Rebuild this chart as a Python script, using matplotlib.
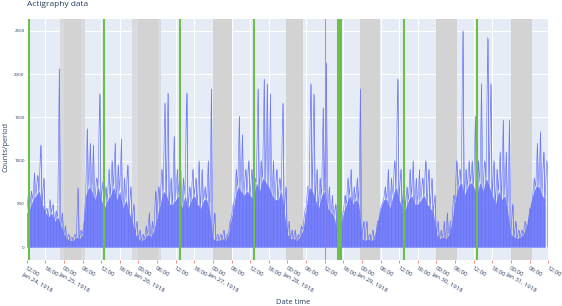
import matplotlib
matplotlib.use("Agg")
import matplotlib.pyplot as plt
import numpy as np
import pandas as pd

plt.rcParams["font.family"] = ["Open Sans", "DejaVu Sans"]

# hourly samples starting 1918-01-24 12:00
start = pd.Timestamp("1918-01-24 12:00")
peak = [
	600, 650, 860, 830, 1180, 800, 450, 550, 500, 420, 2060, 400,
	250, 150, 120, 150, 690, 200, 300, 1370, 1200, 1180, 800, 1770,
	750, 700, 900, 1000, 1200, 950, 1250, 800, 950, 700, 500, 300,
	200, 150, 250, 400, 300, 650, 700, 900, 1665, 1780, 800, 1280,
	900, 1100, 800, 1780, 700, 900, 800, 1000, 900, 700, 1000, 1830,
	400, 150, 150, 200, 150, 300, 500, 900, 1510, 1300, 900, 1000,
	900, 800, 1830, 1000, 1940, 1885, 1770, 1000, 900, 800, 1660, 700,
	300, 200, 200, 150, 250, 400, 700, 1890, 1770, 900, 800, 1610,
	2130, 700, 600, 500, 400, 400, 600, 800, 900, 700, 800, 1830,
	300, 300, 150, 200, 150, 300, 500, 700, 900, 800, 1000, 1944,
	900, 800, 700, 900, 1000, 800, 900, 800, 1000, 900, 800, 600,
	300, 200, 300, 400, 300, 600, 1000, 900, 2500, 900, 1000, 1000,
	1510, 1000, 1890, 1000, 2420, 1890, 1000, 900, 1100, 1470, 1100, 1470,
	500, 300, 200, 200, 300, 200, 400, 800, 1200, 1335, 1100, 1000,
]
level = [
	400, 450, 550, 600, 650, 500, 400, 350, 400, 300, 350, 250,
	150, 100, 80, 80, 120, 100, 150, 600, 700, 650, 550, 700,
	550, 450, 550, 600, 700, 550, 650, 450, 550, 400, 300, 150,
	100, 80, 100, 150, 120, 200, 350, 500, 650, 600, 500, 500,
	550, 600, 450, 600, 450, 550, 600, 500, 450, 550, 550, 400,
	100, 80, 80, 100, 80, 150, 350, 550, 700, 650, 600, 650,
	600, 550, 750, 650, 800, 750, 700, 600, 550, 550, 650, 400,
	150, 100, 100, 80, 120, 200, 450, 700, 650, 550, 450, 600,
	650, 450, 400, 350, 200, 200, 400, 500, 600, 500, 550, 500,
	100, 80, 100, 80, 100, 300, 450, 550, 550, 450, 600, 700,
	550, 450, 450, 550, 600, 500, 500, 550, 600, 500, 450, 400,
	150, 100, 120, 100, 150, 300, 550, 700, 750, 600, 700, 750,
	700, 600, 750, 650, 800, 700, 600, 500, 650, 550, 600, 400,
	150, 120, 100, 120, 150, 250, 450, 600, 700, 700, 600, 550,
]

night_wide = [("1918-01-24 22:45", "1918-01-25 06:55"), ("1918-01-25 22:00", "1918-01-26 07:20")]
sleep = [
	("1918-01-25 00:10", "1918-01-25 05:30"), ("1918-01-25 23:50", "1918-01-26 06:15"),
	("1918-01-27 00:00", "1918-01-27 06:15"), ("1918-01-27 23:40", "1918-01-28 05:00"),
	("1918-01-28 23:20", "1918-01-29 05:40"), ("1918-01-30 00:00", "1918-01-30 06:30"),
	("1918-01-31 00:10", "1918-01-31 06:40"),
]
green_marks = ["1918-01-24 12:50", "1918-01-25 12:50", "1918-01-26 13:15", "1918-01-27 13:10",
	"1918-01-29 13:35", "1918-01-30 13:10"]
green_span = ("1918-01-28 15:50", "1918-01-28 17:25")
red_mark = "1918-01-28 12:10"

blue = "#636efa"
text_col = "#2a3f5f"

hours = pd.date_range(start, periods=len(peak), freq="h")
t_level = hours
t_peak = hours + pd.Timedelta(minutes=30)

# trace: dense band up to the hourly level with the hourly peak in between
t_line = np.empty(2 * len(peak), dtype="datetime64[ns]")
t_line[0::2] = t_level.values
t_line[1::2] = t_peak.values
y_line = np.empty(2 * len(peak))
y_line[0::2] = level
y_line[1::2] = peak

fig = plt.figure(figsize=(5.62, 3.06), dpi=100)
ax = fig.add_axes([0.0475, 0.1503, 0.928, 0.7867])
ax.set_facecolor("#e5ecf6")
for s in ax.spines.values():
	s.set_visible(False)

for a, b in night_wide:
	ax.axvspan(pd.Timestamp(a), pd.Timestamp(b), color="#d9dadd", lw=0, zorder=1)
for a, b in sleep:
	ax.axvspan(pd.Timestamp(a), pd.Timestamp(b), color="#d3d3d3", lw=0, zorder=1)

ax.grid(True, color="white", lw=0.8, zorder=1.5)
ax.set_axisbelow(True)
ax.axhline(0, color="white", lw=1.4, zorder=1.6)

ax.fill_between(t_level, 0, level, color=blue, alpha=0.85, lw=0, zorder=2)
ax.plot(t_line, y_line, color=blue, lw=0.45, alpha=0.9, zorder=2)
ax.vlines(t_peak, 0, peak, color=blue, lw=0.45, alpha=0.85, zorder=2)

for g in green_marks:
	ax.axvline(pd.Timestamp(g), color="#6cc04a", lw=1.5, zorder=3)
ax.axvspan(pd.Timestamp(green_span[0]), pd.Timestamp(green_span[1]), color="#6cc04a", lw=0, zorder=3)
ax.axvline(pd.Timestamp(red_mark), color="#ef6b6b", lw=0.8, alpha=0.85, zorder=3)

x0 = pd.Timestamp("1918-01-24 12:00")
x1 = pd.Timestamp("1918-01-31 12:00")
ax.set_xlim(x0, x1)
ax.set_ylim(-147, 2632)

ticks = pd.date_range(x0, x1, freq="6h")
labels = []
for i, t in enumerate(ticks):
	s = t.strftime("%H:%M")
	if i == 0 or t.hour == 0:
		s += "\n" + t.strftime("%b %d, %Y")
	labels.append(s)
ax.set_xticks(ticks)
ax.set_xticklabels(labels, rotation=-30, ha="left", va="top", rotation_mode="anchor",
	fontsize=4.4, color=text_col, linespacing=1.1)
ax.tick_params(axis="x", length=2.2, width=0.6, color="#e8776f", pad=2)

ax.set_yticks([0, 500, 1000, 1500, 2000, 2500])
ax.tick_params(axis="y", length=0, pad=1.5, labelsize=3.2, labelcolor=text_col)

ax.set_xlabel("Date time", fontsize=5.4, color=text_col)
ax.set_ylabel("Counts/period", fontsize=5.4, color=text_col)
ax.yaxis.set_label_coords(-0.033, 0.47)
ax.xaxis.set_label_coords(0.51, -0.163)

fig.text(27 / 562, 1 - 0.5 / 306, "Actigraphy data", fontsize=6, color=text_col, va="top")

fig.savefig("out.png", dpi=100, facecolor="white")
